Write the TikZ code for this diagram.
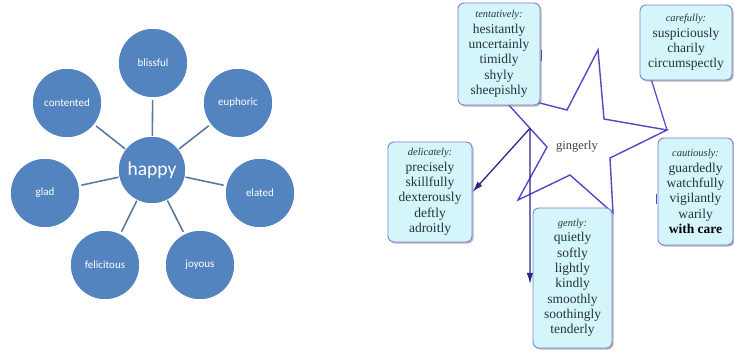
\documentclass[tikz,border=0pt]{standalone}
\usepackage{fontspec}
\setmainfont{Liberation Serif}
\newfontfamily\calfont{Carlito}
\usetikzlibrary{arrows.meta,shadows,calc}
\definecolor{circfill}{RGB}{84,132,192}
\definecolor{spokecol}{RGB}{92,122,158}
\definecolor{boxfill}{RGB}{212,245,250}
\definecolor{boxborder}{RGB}{128,128,212}
\definecolor{starline}{RGB}{82,72,200}
\definecolor{arrowcol}{RGB}{42,40,132}
\definecolor{wordtext}{RGB}{38,52,58}
\newcommand\catlabel[1]{{\fontsize{10.5}{15.3}\selectfont\itshape #1}}
\begin{document}
\begin{tikzpicture}[x=1pt,y=-1pt,
  bubble/.style={circle,fill=circfill,minimum size=68pt,inner sep=0pt,text=white,
    font=\calfont\fontsize{11}{13}\selectfont},
  hub/.style={bubble,minimum size=66pt,font=\calfont\fontsize{19.5}{22}\selectfont},
  spoke/.style={draw=spokecol,line width=1.6pt,shorten >=3pt,shorten <=1pt},
  wordbox/.style={draw=boxborder,line width=0.9pt,fill=boxfill,rounded corners=6pt,
    align=center,inner sep=0pt,text=wordtext,font=\fontsize{13.5}{15.3}\selectfont,
    drop shadow={shadow xshift=1.6pt,shadow yshift=-1.6pt,fill=black!50,opacity=0.55}},
  staredge/.style={draw=starline,line width=1.4pt,line join=miter},
  pointer/.style={draw=arrowcol,line width=1.3pt,-{Latex[length=11pt,width=6.5pt]}},
  stub/.style={draw=starline,line width=1pt},
  callout/.style={draw=starline,line width=1.2pt}]
\useasboundingbox (0,0) rectangle (734,352);
\fill[white] (0,0) rectangle (734,352);

% ---------- left: happy ----------
\node[hub] (happy) at (152,170) {};
\node[bubble] (blissful) at (153,63) {};
\node[bubble] (euphoric) at (238,103) {};
\node[bubble] (elated) at (260,193) {};
\node[bubble] (joyous) at (200,265) {};
\node[bubble] (felicitous) at (105,265) {};
\node[bubble] (glad) at (45,193) {};
\node[bubble] (contented) at (67,103) {};
\foreach \n in {blissful,euphoric,elated,joyous,felicitous,glad,contented}
  \draw[spoke] (happy) -- (\n);
\node[hub] at (happy) {happy};
\foreach \n in {blissful,euphoric,elated,joyous,felicitous,glad,contented}
  \node[bubble] at (\n) {\n};

% ---------- right: gingerly star ----------
\coordinate (T) at (598,50);
\coordinate (I1) at (604,119);
\coordinate (R) at (667,130);
\coordinate (I2) at (610,158);
\coordinate (BR) at (613,213);
\coordinate (I3) at (570,175);
\coordinate (BL) at (518,200);
\coordinate (I4) at (547,147);
\coordinate (L) at (497,92);
\coordinate (I5) at (567,110);
\fill[black!40,opacity=0.6,shift={(2,2)}] (T) -- (I1) -- (R) -- (I2) -- (BR) -- (I3) -- (BL) -- (I4) -- (L) -- (I5) -- cycle;
\path[staredge,fill=white] (T) -- (I1) -- (R) -- (I2) -- (BR) -- (I3) -- (BL) -- (I4) -- (L) -- (I5) -- cycle;
\node[text=wordtext!80!gray,font=\fontsize{12.5}{14}\selectfont] (gingerly) at (577,147) {gingerly};

\coordinate (A) at ($(L)!0.66!(I4)$);
\coordinate (vend) at (530,284);

% boxes
\node[wordbox,minimum width=82pt,minimum height=102pt] (tent) at (499,54)
  {\catlabel{tentatively:}\\hesitantly\\uncertainly\\timidly\\shyly\\sheepishly};
\node[wordbox,minimum width=84pt,minimum height=100pt] (delic) at (430,192)
  {\catlabel{delicately:}\\precisely\\skillfully\\dexterously\\deftly\\adroitly};

\draw[pointer] (A) -- (delic.east);
\draw[pointer] (A) -- (vend);

\node[wordbox,minimum width=92pt,minimum height=75pt] (careful) at (686,42.5)
  {\catlabel{carefully:}\\suspiciously\\charily\\circumspectly};
\node[wordbox,minimum width=79pt,minimum height=140pt] (gently) at (572.5,278)
  {\catlabel{gently:}\\quietly\\softly\\lightly\\kindly\\smoothly\\soothingly\\tenderly};
\node[wordbox,minimum width=75pt,minimum height=107pt] (caut) at (695.5,191.5)
  {\catlabel{cautiously:}\\guardedly\\watchfully\\vigilantly\\warily\\\textbf{\color{black}with care}};

\draw[callout] ([xshift=12pt]careful.south west) -- (R);
\draw[stub] ([xshift=1.5pt,yshift=4pt]tent.east) -- ([xshift=1.5pt,yshift=-7pt]tent.east);
\draw[stub] ([xshift=-1.5pt,yshift=-3pt]caut.west) -- ([xshift=-1.5pt,yshift=-13pt]caut.west);
\end{tikzpicture}
\end{document}
